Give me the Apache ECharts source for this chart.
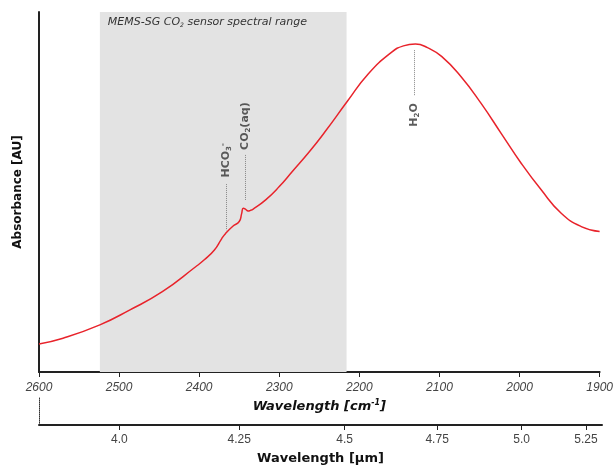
<!DOCTYPE html>
<html>

<head>
  <meta charset="UTF-8">
  <title>CO2 absorbance spectrum</title>
</head>

<body style="margin:0">
  <div id="main" style="width: 616px; height: 466px;"></div>
  <script src="https://cdn.jsdelivr.net/npm/echarts@6.0.0/dist/echarts.min.js"></script>
  <script>
    // Spectrum (wavenumber in cm-1, absorbance in arbitrary units)
    const wavenumber = [2600, 2570, 2524, 2487, 2446, 2404, 2394, 2381, 2372, 2367, 2358, 2350, 2347, 2345,
      2342, 2339, 2336, 2333, 2317, 2300, 2284, 2262, 2242, 2215, 2189, 2160, 2145, 2130, 2115, 2097, 2073, 2048, 2023,
      1998, 1973, 1948, 1923, 1900];
    const absorbance = [0.078, 0.094, 0.131, 0.172, 0.223, 0.293, 0.311, 0.339, 0.37, 0.385, 0.405, 0.418, 0.44, 0.455,
      0.452, 0.447, 0.449, 0.452, 0.478, 0.515, 0.556, 0.613, 0.670, 0.752, 0.828, 0.888, 0.906, 0.911, 0.901, 0.876, 0.820,
      0.746, 0.663, 0.580, 0.506, 0.441, 0.404, 0.390];

    // sensor band
    const sensorBand = [2524, 2216];

    // peak annotations: label, position, dotted guide from/to
    const peakNames = ['HCO{sub|3}{sup|-}', 'CO{sub|2}(aq)', 'H{sub|2}O'];
    const peakWn = [2366, 2343, 2132];
    const peakLabelY = [0.588, 0.683, 0.714];
    const guideTop = [0.522, 0.603, 0.894];
    const guideBottom = [0.394, 0.478, 0.767];

    // lower axis (wavelength in um) and where its ticks sit on the wavenumber scale
    const umLabels = ['4.0', '4.25', '4.5', '4.75', '5.0', '5.25'];
    const umTickWn = [2500, 2351, 2220, 2105, 2000, 1920];

    const cmTicks = [2600, 2500, 2400, 2300, 2200, 2100, 2000, 1900];

    const chart = echarts.init(document.getElementById('main'));
    const subRich = {
      sub: { fontSize: 7, fontWeight: 'bold', verticalAlign: 'bottom', padding: [6, 0, 0, 0] },
      sup: { fontSize: 7, fontWeight: 'bold', verticalAlign: 'top', padding: [0, 0, 6, 0] }
    };

    chart.setOption({
      animation: false,
      grid: [
        { left: 39, right: 14, top: 12, height: 360 },
        { left: 39, right: 14, top: 397, height: 31 }
      ],
      xAxis: [{
        gridIndex: 0,
        type: 'value',
        min: 1900,
        max: 2600,
        inverse: true,
        name: 'Wavelength [cm{sup|-1}]',
        nameLocation: 'middle',
        nameGap: 24,
        nameTextStyle: {
          fontFamily: 'DejaVu Sans', fontSize: 13, fontWeight: 'bold', fontStyle: 'italic', color: '#111',
          rich: { sup: { fontSize: 8, fontWeight: 'bold', fontStyle: 'italic', verticalAlign: 'top', padding: [0, 0, 7, 0] } }
        },
        axisLine: { onZero: false, lineStyle: { color: '#222', width: 2 } },
        axisTick: { customValues: cmTicks, length: 5, lineStyle: { color: '#222' } },
        axisLabel: {
          customValues: cmTicks, margin: 10, fontFamily: 'Liberation Sans', fontStyle: 'italic',
          fontSize: 12, color: '#444', formatter: (v) => String(v)
        },
        splitLine: { show: false }
      }, {
        gridIndex: 1,
        type: 'value',
        min: 1900,
        max: 2600,
        inverse: true,
        name: 'Wavelength [µm]',
        nameLocation: 'middle',
        nameGap: 27,
        nameTextStyle: { fontFamily: 'DejaVu Sans', fontSize: 13, fontWeight: 'bold', color: '#111' },
        axisLine: { onZero: false, lineStyle: { color: '#222', width: 2 } },
        axisTick: { customValues: umTickWn, length: 5, lineStyle: { color: '#222' } },
        axisLabel: {
          customValues: umTickWn, margin: 9, fontFamily: 'Liberation Sans', fontSize: 12, color: '#444',
          formatter: (v) => umLabels[umTickWn.indexOf(v)]
        },
        splitLine: { show: false }
      }],
      yAxis: [{
        gridIndex: 0,
        type: 'value',
        min: 0,
        max: 1,
        name: 'Absorbance [AU]',
        nameLocation: 'middle',
        nameGap: 15,
        nameTextStyle: { fontFamily: 'DejaVu Sans', fontSize: 12, fontWeight: 'bold', color: '#111' },
        axisLine: { show: true, lineStyle: { color: '#222', width: 2 } },
        axisTick: { show: false },
        axisLabel: { show: false },
        splitLine: { show: false }
      }, {
        gridIndex: 1,
        type: 'value',
        axisLine: { show: true, lineStyle: { color: '#333', width: 1, type: [1, 1] } },
        axisTick: { show: false },
        axisLabel: { show: false },
        splitLine: { show: false }
      }],
      series: [{
        type: 'line',
        xAxisIndex: 0,
        yAxisIndex: 0,
        data: wavenumber.map((w, i) => [w, absorbance[i]]),
        smooth: 0.5,
        showSymbol: false,
        lineStyle: { color: '#e8232b', width: 1.5 },
        z: 3,
        markArea: {
          silent: true,
          itemStyle: { color: '#e3e3e3' },
          label: {
            show: true,
            position: 'insideTopLeft',
            distance: 5,
            offset: [3, 0],
            fontFamily: 'DejaVu Sans',
            fontStyle: 'italic',
            fontSize: 11,
            color: '#333',
            formatter: 'MEMS-SG CO{s|2} sensor spectral range',
            rich: { s: { fontSize: 6, fontStyle: 'italic', verticalAlign: 'bottom', padding: [5, 0, 0, 0] } }
          },
          data: [[{ xAxis: sensorBand[0], yAxis: 1 }, { xAxis: sensorBand[1], yAxis: 0 }]]
        },
        markLine: {
          silent: true,
          symbol: 'none',
          label: { show: false },
          lineStyle: { color: '#888', width: 1, type: [1, 1] },
          data: peakWn.map((w, i) => [{ coord: [w, guideTop[i]] }, { coord: [w, guideBottom[i]] }])
        }
      }, {
        type: 'scatter',
        xAxisIndex: 0,
        yAxisIndex: 0,
        symbolSize: 0,
        silent: true,
        data: peakWn.map((w, i) => [w, peakLabelY[i]]),
        label: {
          show: true,
          position: 'inside',
          rotate: 90,
          fontFamily: 'DejaVu Sans',
          fontSize: 11,
          fontWeight: 'bold',
          color: '#333',
          formatter: (p) => peakNames[p.dataIndex],
          rich: subRich
        }
      }]
    });
  </script>
</body>

</html>
